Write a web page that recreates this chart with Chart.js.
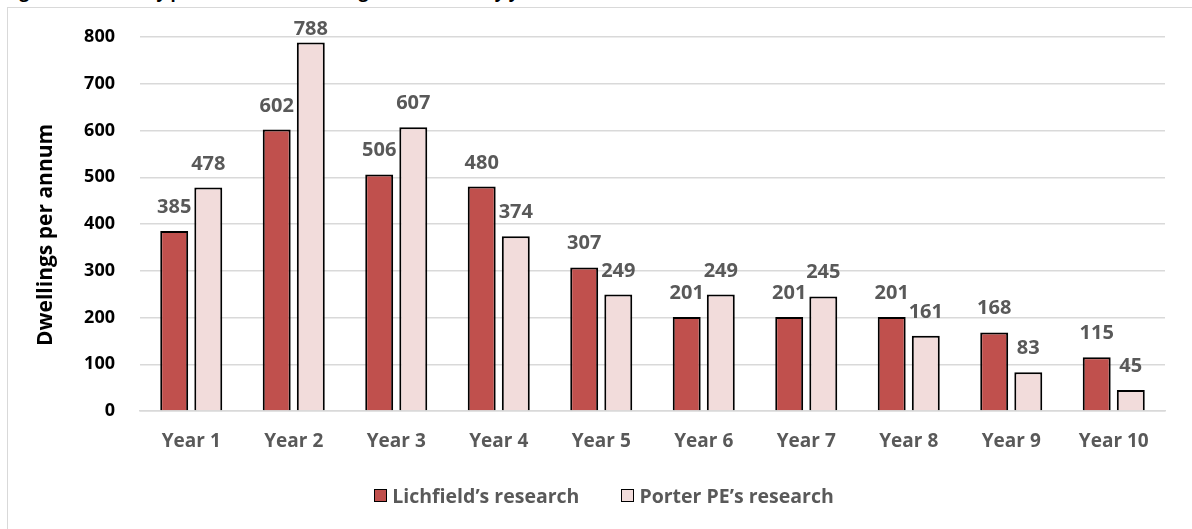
<!DOCTYPE html>
<html>
<head>
<meta charset="utf-8">
<script src="https://cdn.jsdelivr.net/npm/chart.js@4.4.1/dist/chart.umd.min.js"></script>
<style>
  html, body { margin: 0; padding: 0; background: #fff; overflow: hidden; }
  #wrap { position: relative; width: 1192px; height: 529px; }
  #frame { position: absolute; left: 7px; top: 7px; width: 1300px; height: 600px; border: 1.5px solid #D9D9D9; }
  #caption { position: absolute; left: 5px; top: -17px; font: bold 17px "Open Sans", sans-serif; line-height: 17px; color: #000; white-space: nowrap; }
  #chart { position: absolute; left: 0; top: 0; }
  #legend { position: absolute; left: 8px; width: 1192px; top: 482px; text-align: center; font: bold 19.5px "Open Sans", sans-serif; color: #595959; }
  #legend span.item { display: inline-block; margin: 0 21px; }
  #legend span.box { display: inline-block; width: 11px; height: 11px; border: 1.5px solid #000; margin-right: 5px; vertical-align: 1px; }
</style>
</head>
<body>
<div id="wrap">
  <div id="frame"></div>
  <div id="caption">Figure 6.4: Delivery potential of the strategic allocations by year</div>
  <canvas id="chart" width="1192" height="529"></canvas>
  <div id="legend"></div>
</div>
<script>
const categories = ['Year 1', 'Year 2', 'Year 3', 'Year 4', 'Year 5', 'Year 6', 'Year 7', 'Year 8', 'Year 9', 'Year 10'];
const lichfieldValues = [385, 602, 506, 480, 307, 201, 201, 201, 168, 115];
const porterValues = [478, 788, 607, 374, 249, 249, 245, 161, 83, 45];
const yTicks = [0, 100, 200, 300, 400, 500, 600, 700, 800];

const seriesNames = ['Lichfield\u2019s research', 'Porter PE\u2019s research'];
const seriesColors = ['#C0504D', '#F2DCDB'];

const FONT = '"Open Sans", sans-serif';

// value labels above each bar (no datalabels plugin available)
const barLabels = {
    id: 'barLabels',
    afterDatasetsDraw(chart) {
        const ctx = chart.ctx;
        ctx.save();
        ctx.font = 'bold 20px ' + FONT;
        ctx.fillStyle = '#595959';
        ctx.textAlign = 'center';
        ctx.textBaseline = 'alphabetic';
        chart.data.datasets.forEach((ds, i) => {
            chart.getDatasetMeta(i).data.forEach((bar, j) => {
                const y = Math.max(bar.y - 18, chart.chartArea.top - 2);
                ctx.fillText(String(ds.data[j]), bar.x, y);
            });
        });
        ctx.restore();
    }
};

const ctx = document.getElementById('chart').getContext('2d');
const chart = new Chart(ctx, {
    type: 'bar',
    data: {
        labels: categories,
        datasets: [
            {
                label: seriesNames[0],
                data: lichfieldValues,
                backgroundColor: seriesColors[0],
                borderColor: '#000000',
                borderWidth: 2,
                categoryPercentage: 0.665,
                barPercentage: 0.82
            },
            {
                label: seriesNames[1],
                data: porterValues,
                backgroundColor: seriesColors[1],
                borderColor: '#000000',
                borderWidth: 2,
                categoryPercentage: 0.665,
                barPercentage: 0.82
            }
        ]
    },
    options: {
        responsive: false,
        animation: false,
        layout: { padding: { top: 37, right: 27, left: 0, bottom: 0 } },
        plugins: {
            legend: { display: false },
            tooltip: { enabled: false }
        },
        scales: {
            x: {
                grid: { display: false, drawTicks: false },
                border: { color: '#D9D9D9', width: 1.5 },
                ticks: {
                    color: '#595959',
                    font: { family: FONT, size: 19, weight: 'bold' },
                    padding: 19,
                    maxRotation: 0
                },
                afterFit(scale) { scale.height = 118; }
            },
            y: {
                min: 0,
                max: 800,
                afterBuildTicks(scale) { scale.ticks = yTicks.map(v => ({ value: v })); },
                grid: { color: '#D9D9D9', lineWidth: 1.5, drawTicks: false },
                border: { display: false },
                ticks: {
                    color: '#000000',
                    font: { family: FONT, size: 18, weight: 'bold' },
                    padding: 25
                },
                title: {
                    display: true,
                    text: 'Dwellings per annum\u00a0\u00a0\u00a0\u00a0',
                    color: '#000000',
                    font: { family: FONT, size: 21, weight: 'bold' },
                    padding: { top: 33, bottom: 0 }
                },
                afterFit(scale) { scale.width = 140; }
            }
        }
    },
    plugins: [barLabels]
});

// legend built from the chart's datasets
const legend = document.getElementById('legend');
chart.data.datasets.forEach(ds => {
    const item = document.createElement('span');
    item.className = 'item';
    const box = document.createElement('span');
    box.className = 'box';
    box.style.background = ds.backgroundColor;
    item.appendChild(box);
    item.appendChild(document.createTextNode(ds.label));
    legend.appendChild(item);
});
</script>
</body>
</html>
